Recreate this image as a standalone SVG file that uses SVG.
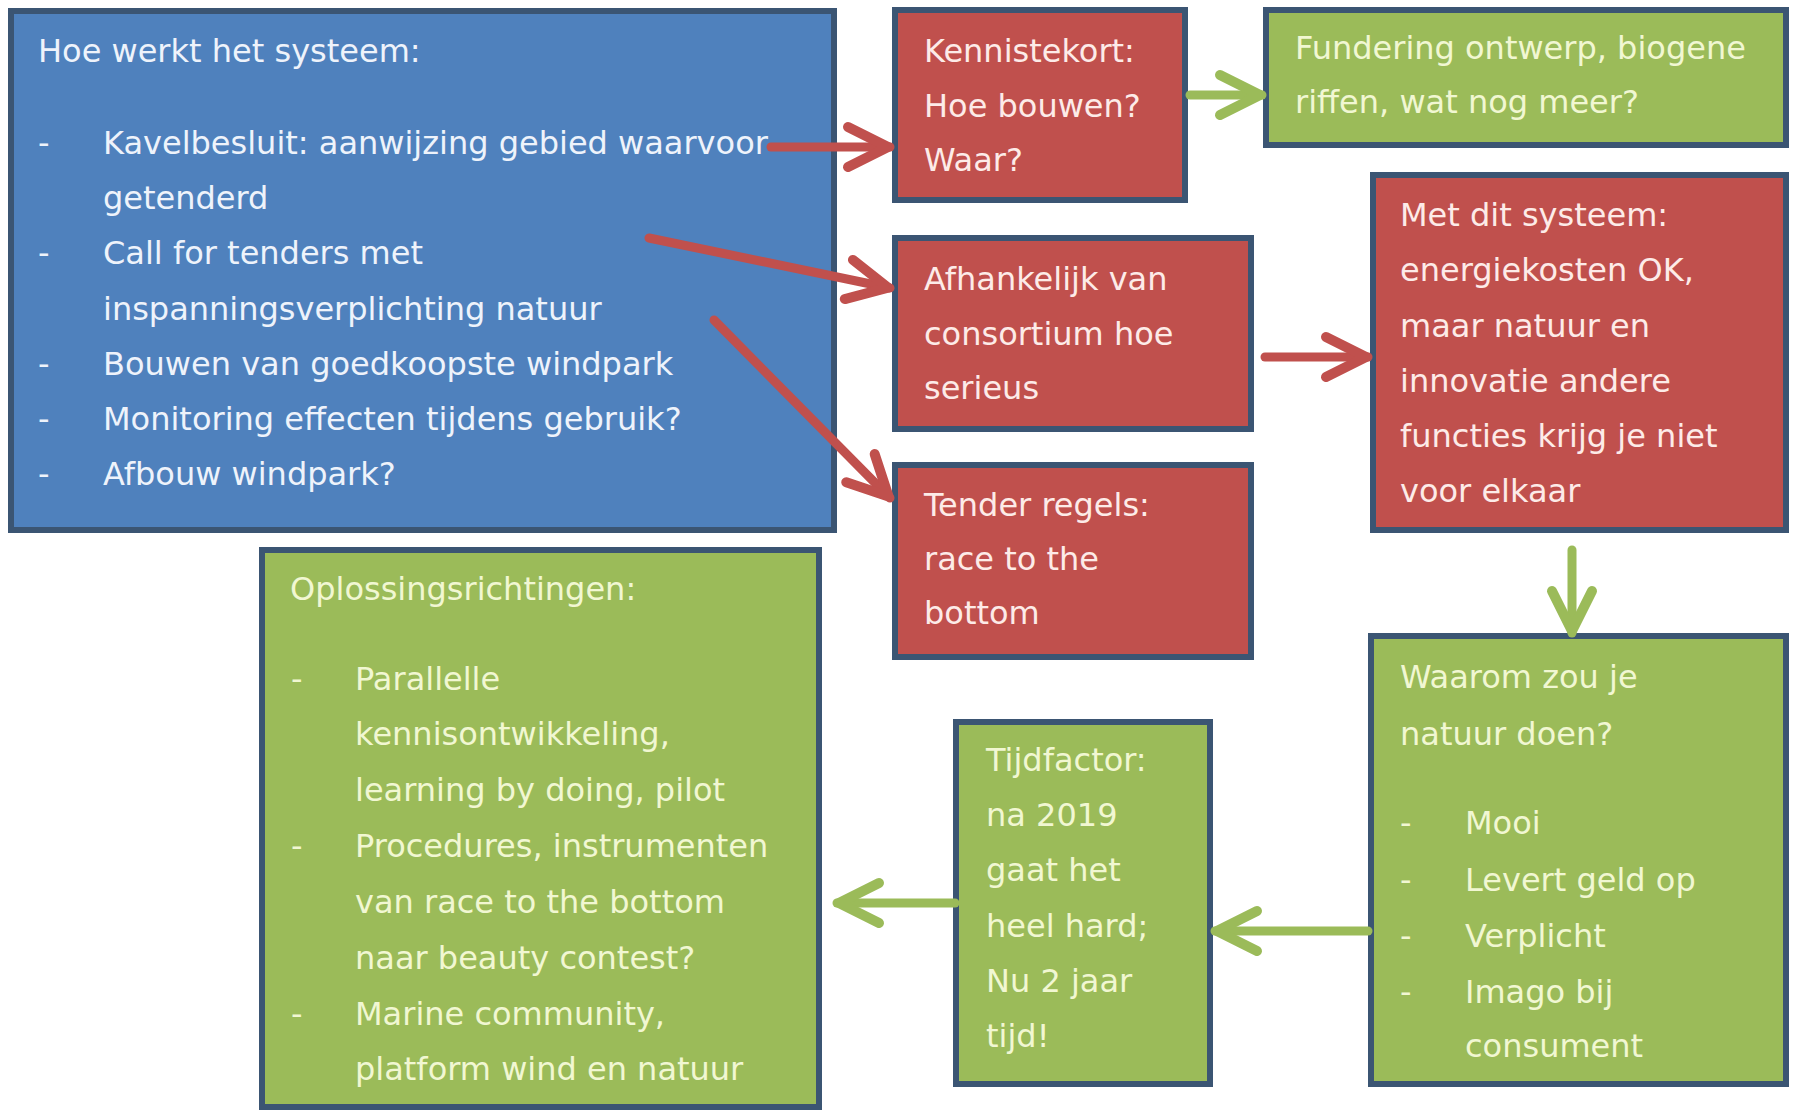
<svg xmlns="http://www.w3.org/2000/svg" width="1797" height="1110" viewBox="0 0 1797 1110">
<defs>
<style>
.box{stroke:#3b5573;stroke-width:6}
.blue{fill:#4f81bd}
.red{fill:#c0504d}
.green{fill:#9bbb59}
text{font-family:"DejaVu Sans","Liberation Sans",sans-serif;font-size:32px}
.tb{fill:#eef3fb}
.tr{fill:#fdebe8}
.tg{fill:#f1f7d2}
.ar{stroke:#c0504d;stroke-width:9;fill:none;stroke-linecap:round}
.ag{stroke:#9bbb59;stroke-width:9;fill:none;stroke-linecap:round}
</style>
<marker id="hr" markerUnits="userSpaceOnUse" viewBox="-55 -30 62 60" markerWidth="62" markerHeight="60" refX="0" refY="0" orient="auto">
<path d="M-42 -20 L-2 0 L-42 20" fill="none" stroke="#c0504d" stroke-width="10" stroke-linecap="round" stroke-linejoin="round"/>
</marker>
<marker id="hg" markerUnits="userSpaceOnUse" viewBox="-55 -30 62 60" markerWidth="62" markerHeight="60" refX="0" refY="0" orient="auto">
<path d="M-42 -20 L-2 0 L-42 20" fill="none" stroke="#9bbb59" stroke-width="10" stroke-linecap="round" stroke-linejoin="round"/>
</marker>
</defs>
<rect width="1797" height="1110" fill="#ffffff"/>

<g id="systeem">
<rect class="box blue" x="11" y="11" width="823" height="519"/>
<text class="tb" x="38" y="62">Hoe werkt het systeem:</text>
<text class="tb" x="38" y="154">-</text><text class="tb" x="103" y="154">Kavelbesluit: aanwijzing gebied waarvoor</text>
<text class="tb" x="103" y="209">getenderd</text>
<text class="tb" x="38" y="264">-</text><text class="tb" x="103" y="264">Call for tenders met</text>
<text class="tb" x="103" y="320">inspanningsverplichting natuur</text>
<text class="tb" x="38" y="375">-</text><text class="tb" x="103" y="375">Bouwen van goedkoopste windpark</text>
<text class="tb" x="38" y="430">-</text><text class="tb" x="103" y="430">Monitoring effecten tijdens gebruik?</text>
<text class="tb" x="38" y="485">-</text><text class="tb" x="103" y="485">Afbouw windpark?</text>
</g>

<g id="kennistekort">
<rect class="box red" x="895" y="10" width="290" height="190"/>
<text class="tr" x="924" y="62">Kennistekort:</text>
<text class="tr" x="924" y="117">Hoe bouwen?</text>
<text class="tr" x="924" y="171">Waar?</text>
</g>

<g id="fundering">
<rect class="box green" x="1266" y="10" width="520" height="135"/>
<text class="tg" x="1295" y="59">Fundering ontwerp, biogene</text>
<text class="tg" x="1295" y="113">riffen, wat nog meer?</text>
</g>

<g id="afhankelijk">
<rect class="box red" x="895" y="238" width="356" height="191"/>
<text class="tr" x="924" y="290">Afhankelijk van</text>
<text class="tr" x="924" y="345">consortium hoe</text>
<text class="tr" x="924" y="399">serieus</text>
</g>

<g id="tender">
<rect class="box red" x="895" y="465" width="356" height="192"/>
<text class="tr" x="924" y="516">Tender regels:</text>
<text class="tr" x="924" y="570">race to the</text>
<text class="tr" x="924" y="624">bottom</text>
</g>

<g id="metdit">
<rect class="box red" x="1373" y="175" width="413" height="355"/>
<text class="tr" x="1400" y="226">Met dit systeem:</text>
<text class="tr" x="1400" y="281">energiekosten OK,</text>
<text class="tr" x="1400" y="337">maar natuur en</text>
<text class="tr" x="1400" y="392">innovatie andere</text>
<text class="tr" x="1400" y="447">functies krijg je niet</text>
<text class="tr" x="1400" y="502">voor elkaar</text>
</g>

<g id="waarom">
<rect class="box green" x="1371" y="636" width="415" height="448"/>
<text class="tg" x="1400" y="688">Waarom zou je</text>
<text class="tg" x="1400" y="745">natuur doen?</text>
<text class="tg" x="1400" y="834">-</text><text class="tg" x="1465" y="834">Mooi</text>
<text class="tg" x="1400" y="891">-</text><text class="tg" x="1465" y="891">Levert geld op</text>
<text class="tg" x="1400" y="947">-</text><text class="tg" x="1465" y="947">Verplicht</text>
<text class="tg" x="1400" y="1003">-</text><text class="tg" x="1465" y="1003">Imago bij</text>
<text class="tg" x="1465" y="1057">consument</text>
</g>

<g id="tijdfactor">
<rect class="box green" x="956" y="722" width="254" height="362"/>
<text class="tg" x="986" y="771">Tijdfactor:</text>
<text class="tg" x="986" y="826">na 2019</text>
<text class="tg" x="986" y="881">gaat het</text>
<text class="tg" x="986" y="937">heel hard;</text>
<text class="tg" x="986" y="992">Nu 2 jaar</text>
<text class="tg" x="986" y="1047">tijd!</text>
</g>

<g id="oplossing">
<rect class="box green" x="262" y="550" width="557" height="557"/>
<text class="tg" x="290" y="600">Oplossingsrichtingen:</text>
<text class="tg" x="291" y="690">-</text><text class="tg" x="355" y="690">Parallelle</text>
<text class="tg" x="355" y="745">kennisontwikkeling,</text>
<text class="tg" x="355" y="801">learning by doing, pilot</text>
<text class="tg" x="291" y="857">-</text><text class="tg" x="355" y="857">Procedures, instrumenten</text>
<text class="tg" x="355" y="913">van race to the bottom</text>
<text class="tg" x="355" y="969">naar beauty contest?</text>
<text class="tg" x="291" y="1025">-</text><text class="tg" x="355" y="1025">Marine community,</text>
<text class="tg" x="355" y="1080">platform wind en natuur</text>
</g>

<g id="connectors">
<line class="ar" x1="771" y1="147" x2="890" y2="147" marker-end="url(#hr)"/>
<line class="ar" x1="649" y1="238" x2="890" y2="288" marker-end="url(#hr)"/>
<line class="ar" x1="714" y1="320" x2="890" y2="498" marker-end="url(#hr)"/>
<line class="ar" x1="1265" y1="357" x2="1368" y2="357" marker-end="url(#hr)"/>
<line class="ag" x1="1190" y1="95" x2="1262" y2="95" marker-end="url(#hg)"/>
<line class="ag" x1="1572" y1="550" x2="1572" y2="633" marker-end="url(#hg)"/>
<line class="ag" x1="1368" y1="931" x2="1215" y2="931" marker-end="url(#hg)"/>
<line class="ag" x1="955" y1="903" x2="837" y2="903" marker-end="url(#hg)"/>
</g>
</svg>
